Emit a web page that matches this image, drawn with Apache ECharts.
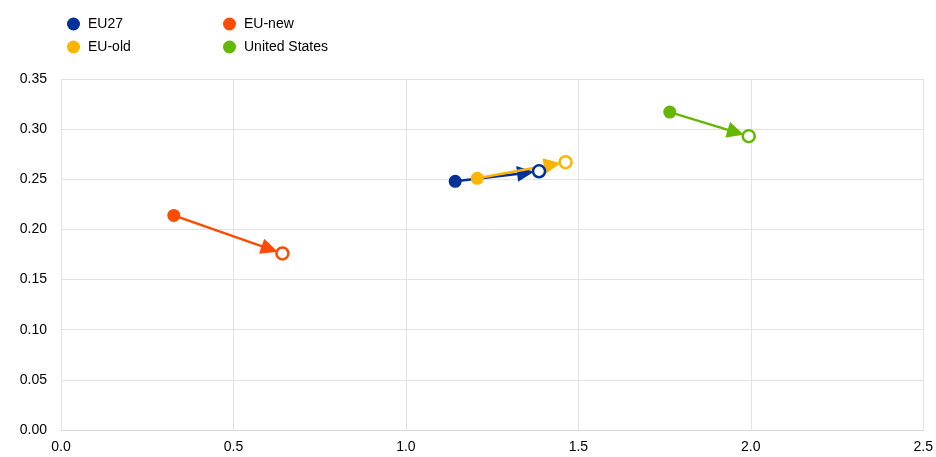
<!DOCTYPE html>
<html><head><meta charset="utf-8">
<script src="https://cdn.jsdelivr.net/npm/echarts@6/dist/echarts.min.js"></script>
<style>html,body{margin:0;padding:0;background:#fff}#c{width:936px;height:457px}</style>
</head><body><div id="c"></div>
<script>
const names = ['EU27', 'EU-new', 'EU-old', 'United States'];
const colors = ['#003299', '#ff4b00', '#ffb400', '#65b800'];
const startX = [1.143, 0.327, 1.207, 1.765];
const startY = [0.248, 0.214, 0.251, 0.317];
const endX = [1.386, 0.642, 1.463, 1.994];
const endY = [0.258, 0.176, 0.267, 0.293];
const xTicks = [0, 0.5, 1.0, 1.5, 2.0, 2.5];
const yTicks = [0, 0.05, 0.10, 0.15, 0.20, 0.25, 0.30, 0.35];

const chart = echarts.init(document.getElementById('c'));
const series = [];
names.forEach((n, i) => {
  series.push({
    type: 'custom', z: 2, silent: true,
    data: [[startX[i], startY[i], endX[i], endY[i]]],
    renderItem: function (params, api) {
      const p0 = api.coord([api.value(0), api.value(1)]);
      const p1 = api.coord([api.value(2), api.value(3)]);
      const dx = p1[0] - p0[0], dy = p1[1] - p0[1];
      const len = Math.sqrt(dx * dx + dy * dy);
      const ux = dx / len, uy = dy / len;
      const r = 5, L = 17, w = 8;
      const tip = [p1[0] - ux * r, p1[1] - uy * r];
      const base = [tip[0] - ux * L, tip[1] - uy * L];
      const nx = -uy, ny = ux;
      return {
        type: 'group',
        children: [
          { type: 'line', shape: { x1: p0[0], y1: p0[1], x2: base[0] + ux * 2, y2: base[1] + uy * 2 },
            style: { stroke: colors[i], lineWidth: 2.5 } },
          { type: 'polygon', shape: { points: [tip, [base[0] + nx * w, base[1] + ny * w], [base[0] - nx * w, base[1] - ny * w]] },
            style: { fill: colors[i] } }
        ]
      };
    }
  });
});
names.forEach((n, i) => {
  series.push({
    name: n, type: 'scatter', z: 3, color: colors[i],
    itemStyle: { color: colors[i], opacity: 1 },
    emphasis: { disabled: true },
    data: [
      { value: [startX[i], startY[i]], symbolSize: 13, itemStyle: { color: colors[i], opacity: 1 } },
      { value: [endX[i], endY[i]], symbolSize: 12, itemStyle: { color: '#fff', borderColor: colors[i], borderWidth: 2.5, opacity: 1 } }
    ]
  });
});
const legendCommon = {
  orient: 'vertical', top: 12, icon: 'circle', itemWidth: 13, itemHeight: 13, itemGap: 9,
  textStyle: { fontFamily: 'Liberation Sans, Arial', fontSize: 14, color: '#000', padding: [0, 0, 0, 3] }
};
chart.setOption({
  animation: false,
  backgroundColor: '#fff',
  legend: [
    Object.assign({ left: 62, data: ['EU27', 'EU-old'] }, legendCommon),
    Object.assign({ left: 218, data: ['EU-new', 'United States'] }, legendCommon)
  ],
  grid: { left: 61, right: 11, top: 79, bottom: 27 },
  xAxis: {
    type: 'value', min: 0, max: 2.5, interval: 0.5,
    axisLine: { show: true, lineStyle: { color: '#d9d9d9' } },
    axisTick: { show: false },
    splitLine: { show: true, lineStyle: { color: '#e3e3e3' } },
    axisLabel: { color: '#000', fontFamily: 'Liberation Sans, Arial', fontSize: 14, margin: 10,
      formatter: v => v.toFixed(1) }
  },
  yAxis: {
    type: 'value', min: 0, max: 0.35, interval: 0.05,
    axisLine: { show: false }, axisTick: { show: false },
    splitLine: { show: true, lineStyle: { color: '#e3e3e3' } },
    axisLabel: { color: '#000', fontFamily: 'Liberation Sans, Arial', fontSize: 14, margin: 14,
      formatter: v => v.toFixed(2) }
  },
  series: series
});
</script></body></html>
